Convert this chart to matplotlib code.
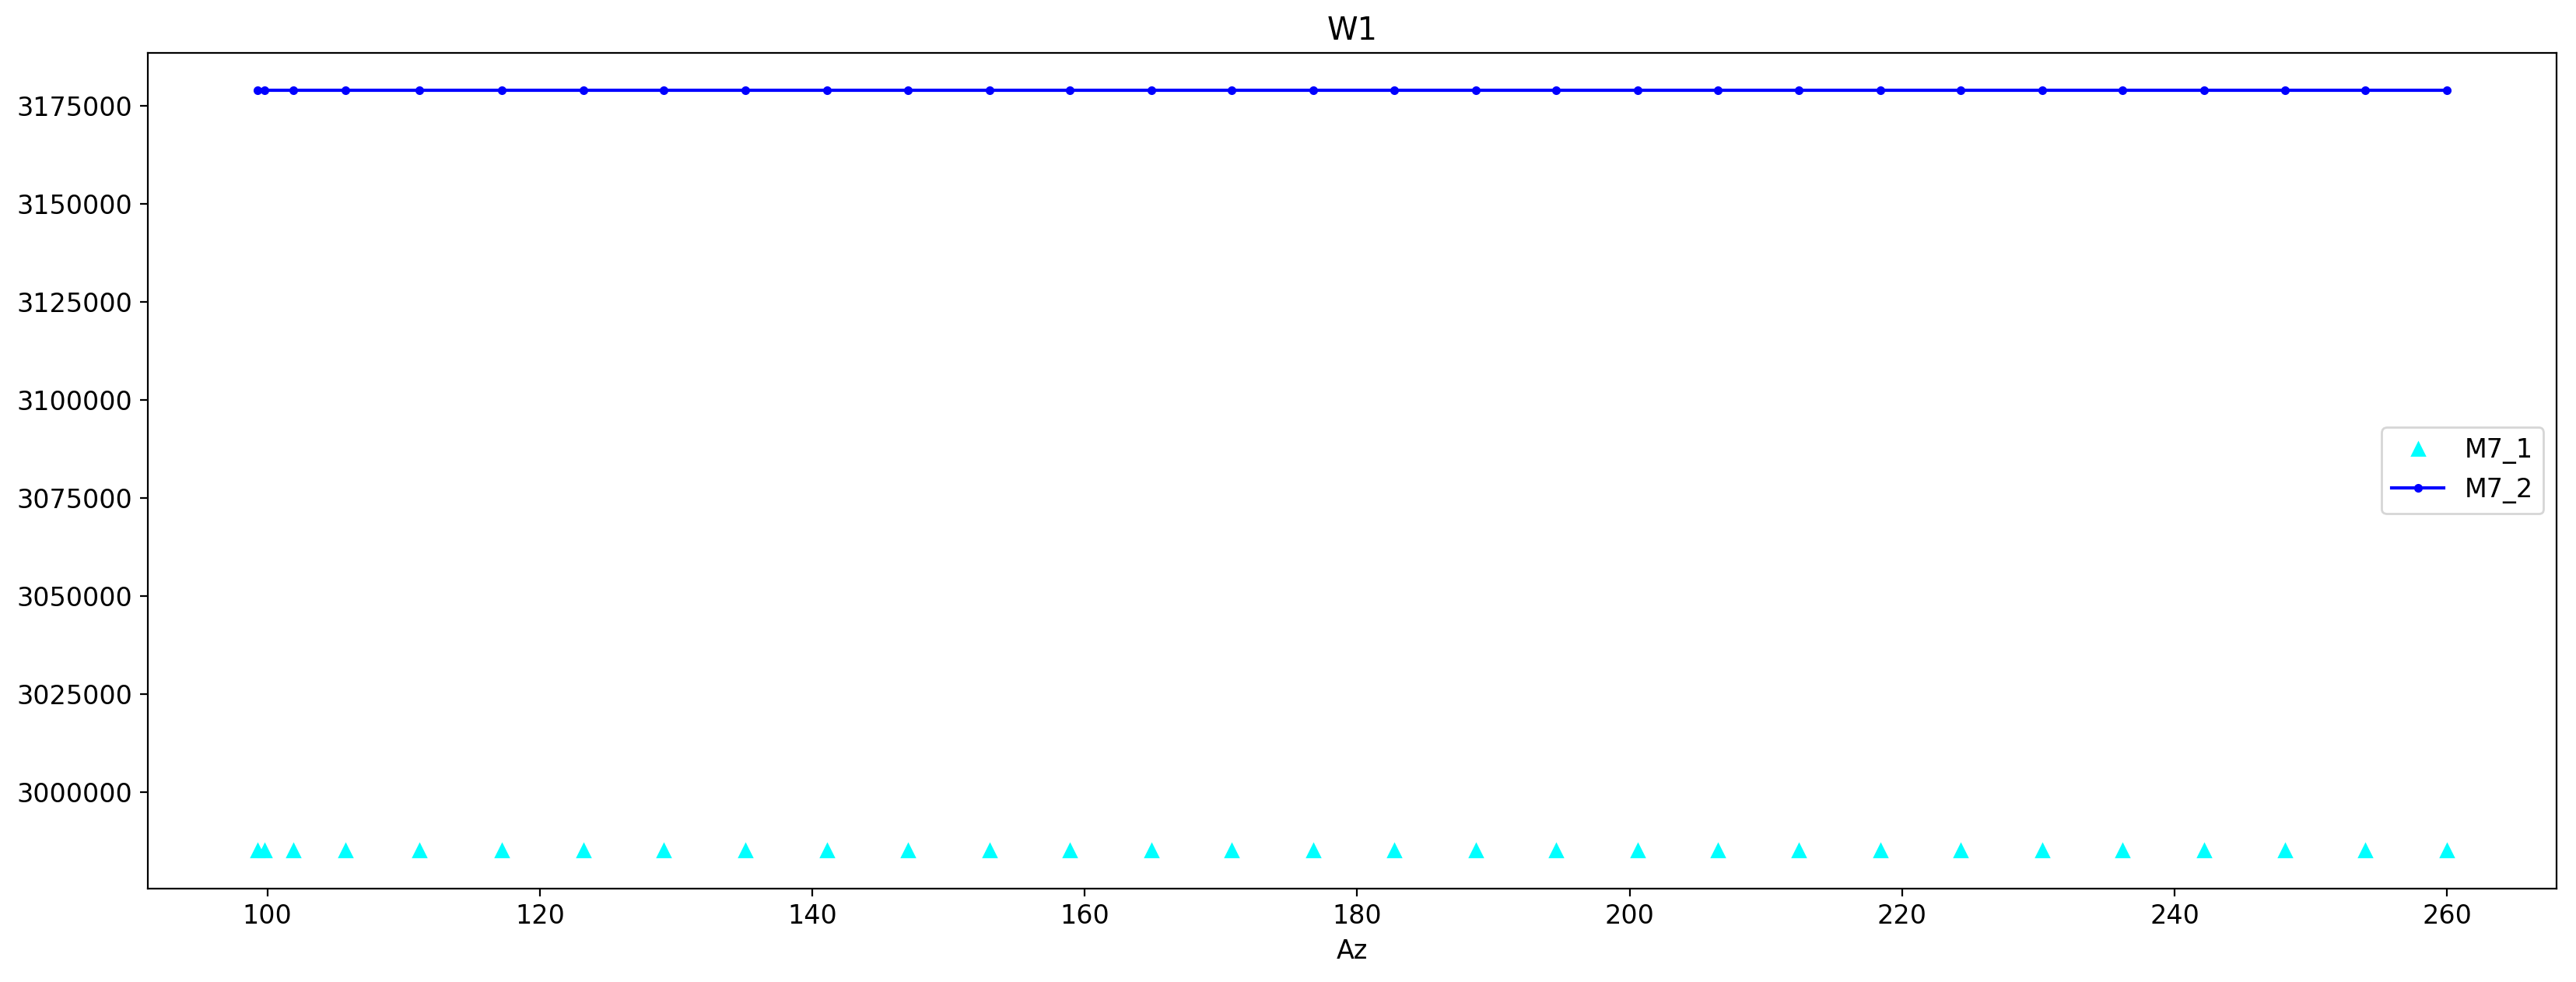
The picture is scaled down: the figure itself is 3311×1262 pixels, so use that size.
import matplotlib
matplotlib.use("Agg")
import matplotlib.pyplot as plt

az = [99.26, 99.76, 101.91, 105.75, 111.18, 117.2, 123.2, 129.1, 135.1, 141.1,
      147.0, 153.0, 158.9, 164.9, 170.8, 176.8, 182.7, 188.7, 194.6, 200.6,
      206.5, 212.4, 218.4, 224.3, 230.3, 236.2, 242.2, 248.1, 254.0, 260.0]
m7_1 = [2985150] * len(az)
m7_2 = [3178960] * len(az)

plt.rcParams['font.size'] = 12

fig = plt.figure(figsize=(16.555, 6.31), dpi=200)
ax = fig.add_subplot(111)
fig.subplots_adjust(left=0.0574, right=0.9924, top=0.9465, bottom=0.0951)

ax.plot(az, m7_1, '^', color='cyan', label='M7_1')
ax.plot(az, m7_2, '.-', color='blue', label='M7_2')
ax.set_title('W1')
ax.set_xlabel('Az')
ax.ticklabel_format(axis='y', style='plain', useOffset=False)
ax.legend(loc='center right')

fig.savefig('out.png', dpi=200)
